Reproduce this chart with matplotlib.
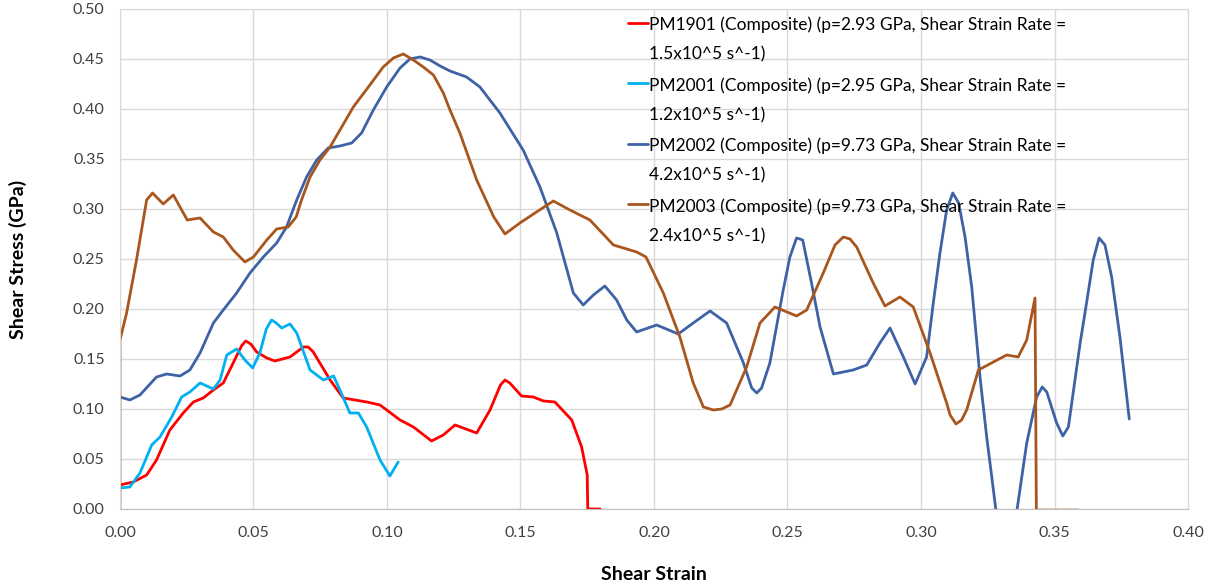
import numpy as np
import matplotlib
matplotlib.use("Agg")
import matplotlib.pyplot as plt
from matplotlib.lines import Line2D
from matplotlib.legend_handler import HandlerLine2D

plt.rcParams['font.family'] = ['Lato', 'DejaVu Sans']

# ---- PM1901: p = 2.93 GPa ----
pm1901_strain = [0.0, 0.005, 0.010, 0.0137, 0.0187, 0.0237, 0.0275, 0.0312, 0.035, 0.0387,
                 0.0424, 0.0455, 0.0471, 0.049, 0.0512, 0.055, 0.058, 0.0637, 0.0687, 0.0705,
                 0.0724, 0.0787, 0.0836, 0.0924, 0.0974, 0.1049, 0.1099, 0.1167, 0.1211, 0.1255,
                 0.1336, 0.1386, 0.1425, 0.1442, 0.146, 0.1504, 0.1548, 0.1586, 0.1629, 0.1692,
                 0.1729, 0.1750, 0.1752, 0.1798]
pm1901_stress = [0.024, 0.027, 0.034, 0.049, 0.079, 0.096, 0.107, 0.111, 0.119, 0.126,
                 0.146, 0.163, 0.168, 0.165, 0.157, 0.151, 0.148, 0.152, 0.162, 0.162,
                 0.157, 0.129, 0.111, 0.107, 0.104, 0.089, 0.082, 0.068, 0.074, 0.084,
                 0.076, 0.099, 0.124, 0.129, 0.126, 0.113, 0.112, 0.108, 0.107, 0.089,
                 0.062, 0.034, 0.0, 0.0]

# ---- PM2001: p = 2.95 GPa ----
pm2001_strain = [0.0, 0.0037, 0.0075, 0.0119, 0.015, 0.0194, 0.0231, 0.0262, 0.030, 0.035,
                 0.0375, 0.040, 0.0437, 0.0468, 0.0497, 0.0524, 0.0548, 0.0568, 0.0585, 0.0606,
                 0.0637, 0.0662, 0.0712, 0.0762, 0.080, 0.0824, 0.0861, 0.0893, 0.0924, 0.0974,
                 0.1011, 0.1042]
pm2001_stress = [0.021, 0.022, 0.036, 0.064, 0.072, 0.092, 0.112, 0.117, 0.126, 0.120,
                 0.129, 0.154, 0.160, 0.149, 0.141, 0.156, 0.180, 0.189, 0.186, 0.181,
                 0.185, 0.176, 0.139, 0.129, 0.133, 0.119, 0.096, 0.096, 0.082, 0.049,
                 0.033, 0.047]

# ---- PM2002: p = 9.73 GPa ----
pm2002_strain = [0.0, 0.0037, 0.0075, 0.0137, 0.0175, 0.0225, 0.0262, 0.030, 0.035, 0.0387,
                 0.0437, 0.0487, 0.0537, 0.0587, 0.0624, 0.0662, 0.0699, 0.0737, 0.078, 0.0824,
                 0.0868, 0.0905, 0.0949, 0.0999, 0.1049, 0.1086, 0.1124, 0.1161, 0.1199, 0.1236,
                 0.1298, 0.1348, 0.1423,
                 0.151, 0.1573, 0.1636, 0.1698, 0.1735, 0.1773, 0.1816, 0.186, 0.1898, 0.1935,
                 0.201, 0.2091, 0.2147, 0.221, 0.2272, 0.2335, 0.2366, 0.2385, 0.2403, 0.2434,
                 0.2484, 0.2509, 0.2534, 0.2557, 0.2590, 0.2622, 0.2672, 0.2746, 0.2797, 0.2846,
                 0.2884, 0.2934, 0.2978, 0.3021, 0.3046, 0.3071, 0.3096, 0.3119, 0.3141, 0.3165,
                 0.319, 0.3221, 0.3246, 0.3265, 0.328, 0.3305, 0.332, 0.3335, 0.336, 0.3396,
                 0.3433, 0.3454, 0.3471, 0.3508, 0.3531, 0.3552, 0.3596, 0.362, 0.3645, 0.3667,
                 0.3689, 0.3714, 0.3745, 0.378]
pm2002_stress = [0.112, 0.109, 0.114, 0.132, 0.135, 0.133, 0.139, 0.156, 0.186, 0.199,
                 0.216, 0.236, 0.252, 0.266, 0.282, 0.309, 0.332, 0.349, 0.361, 0.363,
                 0.366, 0.376, 0.399, 0.422, 0.441, 0.450, 0.452, 0.449, 0.443, 0.438,
                 0.432, 0.422, 0.396,
                 0.359, 0.322, 0.276, 0.216, 0.204, 0.214, 0.223, 0.209, 0.189, 0.177,
                 0.184, 0.175, 0.186, 0.198, 0.186, 0.146, 0.121, 0.116, 0.121, 0.146,
                 0.219, 0.252, 0.271, 0.269, 0.226, 0.182, 0.135, 0.139, 0.144, 0.166,
                 0.181, 0.152, 0.125, 0.152, 0.206, 0.256, 0.299, 0.316, 0.306, 0.272,
                 0.222, 0.132, 0.072, 0.032, 0.0, -0.05, -0.065, -0.05, 0.0, 0.066,
                 0.112, 0.122, 0.117, 0.086, 0.073, 0.082, 0.166, 0.206, 0.249, 0.271,
                 0.264, 0.232, 0.172, 0.090]

# ---- PM2003: p = 9.73 GPa ----
pm2003_strain = [0.0, 0.0, 0.0025, 0.0062, 0.010, 0.0122, 0.0162, 0.020, 0.0225, 0.0252,
                 0.030, 0.035, 0.0387, 0.0424, 0.0468, 0.050, 0.055, 0.0587, 0.063, 0.066,
                 0.068, 0.0712, 0.0749, 0.0787, 0.0824, 0.0874, 0.0936, 0.0986, 0.1024, 0.1061,
                 0.1099, 0.1136, 0.1174, 0.1211, 0.1236,
                 0.1273, 0.1336, 0.140, 0.1442, 0.1498, 0.156, 0.1623, 0.1685, 0.176,
                 0.1848, 0.1935, 0.197, 0.2035, 0.2097, 0.2147, 0.2185, 0.2222, 0.2254, 0.2285,
                 0.2347, 0.2397, 0.2453, 0.2534, 0.2572, 0.2634, 0.2678, 0.2709, 0.2734, 0.2759,
                 0.2821, 0.2865, 0.2921, 0.2971, 0.3034, 0.3096, 0.3109, 0.3131, 0.3152, 0.3171,
                 0.3215, 0.3271, 0.3321, 0.3364, 0.3396, 0.3427, 0.3432]
pm2003_stress = [0.0, 0.169, 0.196, 0.249, 0.309, 0.316, 0.305, 0.314, 0.302, 0.289,
                 0.291, 0.277, 0.272, 0.259, 0.247, 0.252, 0.269, 0.280, 0.282, 0.292,
                 0.309, 0.332, 0.349, 0.362, 0.379, 0.402, 0.424, 0.442, 0.451, 0.455,
                 0.449, 0.442, 0.434, 0.416, 0.399,
                 0.376, 0.329, 0.292, 0.275, 0.286, 0.297, 0.308, 0.299, 0.289,
                 0.264, 0.257, 0.252, 0.216, 0.172, 0.126, 0.102, 0.099, 0.100, 0.104,
                 0.142, 0.186, 0.202, 0.193, 0.199, 0.236, 0.264, 0.272, 0.270, 0.262,
                 0.226, 0.203, 0.212, 0.202, 0.156, 0.106, 0.094, 0.085, 0.089, 0.099,
                 0.139, 0.147, 0.154, 0.152, 0.169, 0.211, 0.0]
# zero-stress tail recorded after failure
pm2003_tail_strain = [0.3432, 0.3583]
pm2003_tail_stress = [0.0, 0.0]

labels = [
    "PM1901 (Composite) (p=2.93 GPa, Shear Strain Rate =\n1.5x10^5 s^-1)",
    "PM2001 (Composite) (p=2.95 GPa, Shear Strain Rate =\n1.2x10^5 s^-1)",
    "PM2002 (Composite) (p=9.73 GPa, Shear Strain Rate =\n4.2x10^5 s^-1)",
    "PM2003 (Composite) (p=9.73 GPa, Shear Strain Rate =\n2.4x10^5 s^-1)",
]
colors = ["#FF0000", "#00B0F0", "#3D62A6", "#A9561E"]

x_ticks = np.arange(0, 0.401, 0.05)
y_ticks = np.arange(0, 0.501, 0.05)

fig = plt.figure(figsize=(12.14, 5.87), dpi=100)
ax = fig.add_axes([0.0988, 0.1329, 0.8798, 0.8518])

lw = 2.0
style = dict(lw=lw, solid_joinstyle='round', solid_capstyle='round')
l1, = ax.plot(pm1901_strain, pm1901_stress, color=colors[0], **style)
l2, = ax.plot(pm2001_strain, pm2001_stress, color=colors[1], **style)
l3, = ax.plot(pm2002_strain, pm2002_stress, color=colors[2], **style)
l4, = ax.plot(pm2003_strain, pm2003_stress, color=colors[3], **style)
ax.plot(pm2003_tail_strain, pm2003_tail_stress, color=colors[3], lw=lw, alpha=0.3)

ax.set_xlim(0, 0.40)
ax.set_ylim(0, 0.50)
ax.set_xticks(x_ticks)
ax.set_yticks(y_ticks)
ax.set_xticklabels([f"{v:.2f}" for v in x_ticks])
ax.set_yticklabels([f"{v:.2f}" for v in y_ticks])
ax.tick_params(length=0, labelsize=11.5, colors="#404040")
ax.tick_params(axis='y', pad=11)
ax.tick_params(axis='x', pad=12)
ax.grid(True, color="#D9D9D9", lw=1.0)
ax.set_axisbelow(True)
for side in ("left", "top", "right"):
    ax.spines[side].set_color("#D9D9D9")
ax.spines["bottom"].set_color("#BFBFBF")

ax.set_xlabel("Shear Strain", fontsize=14, fontweight="bold", labelpad=19)
ax.set_ylabel("Shear Stress (GPa)", fontsize=14, fontweight="bold", labelpad=33)


class FirstLineHandler(HandlerLine2D):
    """Places the legend line next to the first line of a two-line label."""
    def create_artists(self, legend, orig_handle, xdescent, ydescent, width,
                       height, fontsize, trans):
        arts = super().create_artists(legend, orig_handle, xdescent, ydescent,
                                      width, height, fontsize, trans)
        for a in arts:
            a.set_ydata(np.asarray(a.get_ydata()) + 1.0 * fontsize)
        return arts


leg = ax.legend([l1, l2, l3, l4], labels, loc="upper left",
                bbox_to_anchor=(0.461, 1.016), frameon=False, fontsize=12.5,
                handlelength=1.15, handletextpad=0.05, labelspacing=0.85,
                handler_map={Line2D: FirstLineHandler()})
for t in leg.get_texts():
    t.set_color("#000000")
    t.set_linespacing(2.0)

fig.savefig("out.png", dpi=100)
